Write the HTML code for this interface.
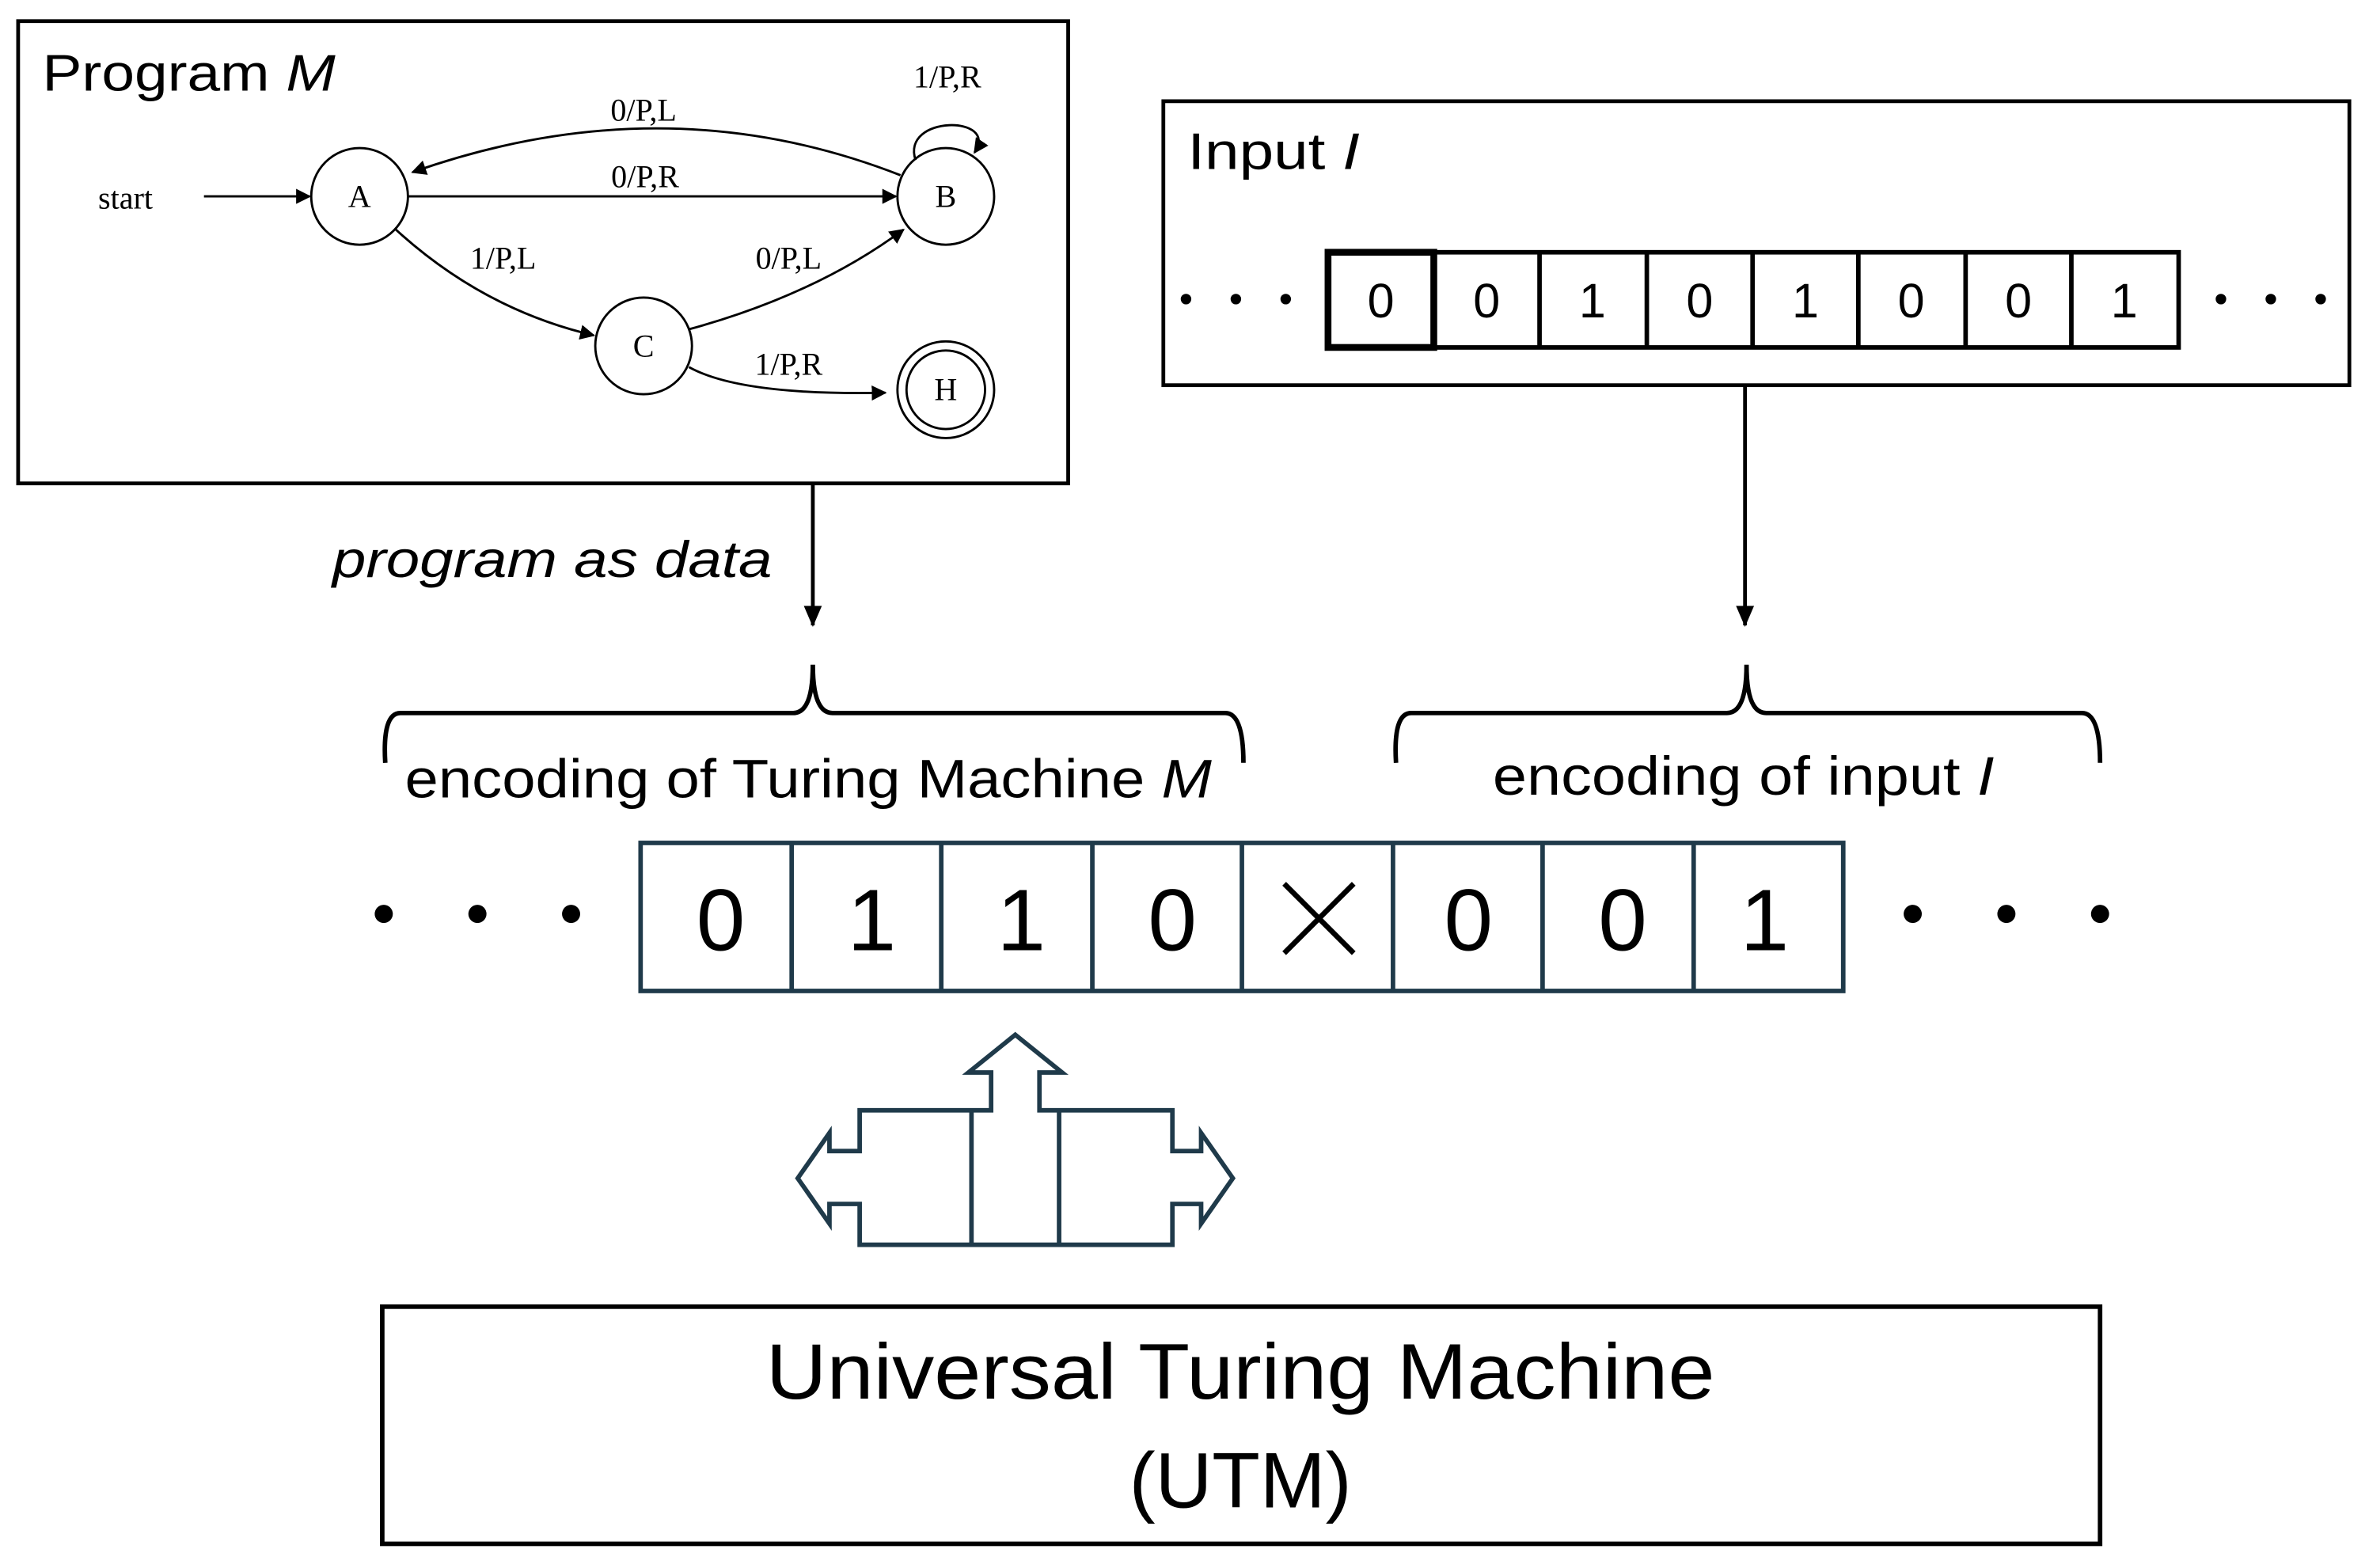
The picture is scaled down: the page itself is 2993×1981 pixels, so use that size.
<!DOCTYPE html>
<html><head><meta charset="utf-8"><style>html,body{margin:0;padding:0;background:#fff}svg{display:block}</style></head><body>
<svg width="2993" height="1981" viewBox="0 0 1568 1038" preserveAspectRatio="none" xmlns="http://www.w3.org/2000/svg" font-family="Liberation Sans, sans-serif">
<defs>
<marker id="ah" markerWidth="10" markerHeight="10" refX="9" refY="5" orient="auto" markerUnits="userSpaceOnUse"><path d="M0,0 L10,5 L0,10 z" fill="#000"/></marker>
<marker id="ah2" markerWidth="14" markerHeight="12" refX="13" refY="6" orient="auto" markerUnits="userSpaceOnUse"><path d="M0,0 L14,6 L0,12 z" fill="#000"/></marker>
</defs>
<rect width="1568" height="1038" fill="#fff"/>
<rect x="12" y="14" width="695" height="306" fill="none" stroke="#000" stroke-width="2.5"/>
<text x="28" y="60" font-size="34" textLength="194" lengthAdjust="spacingAndGlyphs">Program <tspan font-style="italic">M</tspan></text>
<g font-family="Liberation Serif, serif" font-size="21">
<text x="65" y="138">start</text>
<line x1="135" y1="130" x2="205" y2="130" stroke="#000" stroke-width="1.5" marker-end="url(#ah)"/>
<circle cx="238" cy="130" r="32" fill="none" stroke="#000" stroke-width="1.5"/><text x="238" y="137" text-anchor="middle">A</text>
<circle cx="626" cy="130" r="32" fill="none" stroke="#000" stroke-width="1.5"/><text x="626" y="137" text-anchor="middle">B</text>
<circle cx="426" cy="229" r="32" fill="none" stroke="#000" stroke-width="1.5"/><text x="426" y="236" text-anchor="middle">C</text>
<circle cx="626" cy="258" r="32" fill="none" stroke="#000" stroke-width="1.5"/><circle cx="626" cy="258" r="26" fill="none" stroke="#000" stroke-width="1.5"/><text x="626" y="265" text-anchor="middle">H</text>
<line x1="270" y1="130" x2="593" y2="130" stroke="#000" stroke-width="1.5" marker-end="url(#ah)"/>
<text x="427" y="124" text-anchor="middle">0/P,R</text>
<path d="M596,116 Q440,55 273,114" fill="none" stroke="#000" stroke-width="1.5" marker-end="url(#ah)"/>
<text x="426" y="80" text-anchor="middle">0/P,L</text>
<path d="M606,106 C596,76 662,76 645,101" fill="none" stroke="#000" stroke-width="1.5" marker-end="url(#ah)"/>
<text x="627" y="58" text-anchor="middle">1/P,R</text>
<path d="M262,152 Q320,205 393,222" fill="none" stroke="#000" stroke-width="1.5" marker-end="url(#ah)"/>
<text x="333" y="178" text-anchor="middle">1/P,L</text>
<path d="M456,218 Q540,195 598,152" fill="none" stroke="#000" stroke-width="1.5" marker-end="url(#ah)"/>
<text x="522" y="178" text-anchor="middle">0/P,L</text>
<path d="M456,243 Q490,262 586,260" fill="none" stroke="#000" stroke-width="1.5" marker-end="url(#ah)"/>
<text x="522" y="248" text-anchor="middle">1/P,R</text>
</g>
<rect x="770" y="67" width="785" height="188" fill="none" stroke="#000" stroke-width="2.5"/>
<text x="786" y="112" font-size="34" textLength="114" lengthAdjust="spacingAndGlyphs">Input <tspan font-style="italic">I</tspan></text>
<g fill="#000"><circle cx="785" cy="198" r="3.5"/><circle cx="818" cy="198" r="3.5"/><circle cx="851" cy="198" r="3.5"/><circle cx="1470" cy="198" r="3.5"/><circle cx="1503" cy="198" r="3.5"/><circle cx="1536" cy="198" r="3.5"/></g>
<g stroke="#000" stroke-width="3" fill="none">
<rect x="879" y="167" width="563" height="63"/>
<rect x="879" y="167" width="70" height="63" stroke-width="4.5"/>
<line x1="1019" y1="167" x2="1019" y2="230"/><line x1="1090" y1="167" x2="1090" y2="230"/><line x1="1160" y1="167" x2="1160" y2="230"/><line x1="1230" y1="167" x2="1230" y2="230"/><line x1="1301" y1="167" x2="1301" y2="230"/><line x1="1371" y1="167" x2="1371" y2="230"/>
</g>
<g font-size="32" text-anchor="middle">
<text x="914" y="210">0</text><text x="984" y="210">0</text><text x="1054" y="210">1</text><text x="1125" y="210">0</text><text x="1195" y="210">1</text><text x="1265" y="210">0</text><text x="1336" y="210">0</text><text x="1406" y="210">1</text>
</g>
<line x1="538" y1="320" x2="538" y2="414" stroke="#000" stroke-width="2.5" marker-end="url(#ah2)"/>
<line x1="1155" y1="255" x2="1155" y2="414" stroke="#000" stroke-width="2.5" marker-end="url(#ah2)"/>
<text x="220" y="382" font-size="34" font-style="italic" textLength="291" lengthAdjust="spacingAndGlyphs">program as data</text>
<path d="M255,505 Q253,472 265,472 L525,472 Q538,472 538,440 Q538,472 551,472 L811,472 Q823,472 823,505" fill="none" stroke="#000" stroke-width="3"/>
<path d="M924,505 Q922,472 934,472 L1143,472 Q1156,472 1156,440 Q1156,472 1169,472 L1378,472 Q1390,472 1390,505" fill="none" stroke="#000" stroke-width="3"/>
<text x="268" y="528" font-size="36" textLength="534" lengthAdjust="spacingAndGlyphs">encoding of Turing Machine <tspan font-style="italic">M</tspan></text>
<text x="988" y="526" font-size="36" textLength="332" lengthAdjust="spacingAndGlyphs">encoding of input <tspan font-style="italic">I</tspan></text>
<g fill="#000"><circle cx="254" cy="605" r="6"/><circle cx="316" cy="605" r="6"/><circle cx="378" cy="605" r="6"/><circle cx="1266" cy="605" r="6"/><circle cx="1328" cy="605" r="6"/><circle cx="1390" cy="605" r="6"/></g>
<g stroke="#1f3a4a" stroke-width="3" fill="none">
<rect x="424" y="558" width="796" height="98"/>
<line x1="524" y1="558" x2="524" y2="656"/><line x1="623" y1="558" x2="623" y2="656"/><line x1="723" y1="558" x2="723" y2="656"/><line x1="822" y1="558" x2="822" y2="656"/><line x1="922" y1="558" x2="922" y2="656"/><line x1="1021" y1="558" x2="1021" y2="656"/><line x1="1121" y1="558" x2="1121" y2="656"/>
</g>
<g font-size="58" text-anchor="middle">
<text x="477" y="629">0</text><text x="577" y="629">1</text><text x="676" y="629">1</text><text x="776" y="629">0</text>
<text x="972" y="629">0</text><text x="1074" y="629">0</text><text x="1168" y="629">1</text>
</g>
<path d="M850,585 L896,631 M896,585 L850,631" stroke="#000" stroke-width="3.5"/>
<path d="M672,685 L703,710 L688,710 L688,735 L776,735 L776,762 L795,762 L795,750 L816,780 L795,810 L795,797 L776,797 L776,824 L569,824 L569,797 L549,797 L549,810 L528,780 L549,750 L549,762 L569,762 L569,735 L656,735 L656,710 L641,710 Z" fill="none" stroke="#1f3a4a" stroke-width="3"/>
<line x1="643" y1="735" x2="643" y2="824" stroke="#1f3a4a" stroke-width="3"/>
<line x1="701" y1="735" x2="701" y2="824" stroke="#1f3a4a" stroke-width="3"/>
<rect x="253" y="865" width="1137" height="157" fill="none" stroke="#000" stroke-width="3"/>
<text x="507" y="926" font-size="52" textLength="628" lengthAdjust="spacingAndGlyphs">Universal Turing Machine</text>
<text x="821" y="998" font-size="52" text-anchor="middle">(UTM)</text>
</svg>
</body></html>
